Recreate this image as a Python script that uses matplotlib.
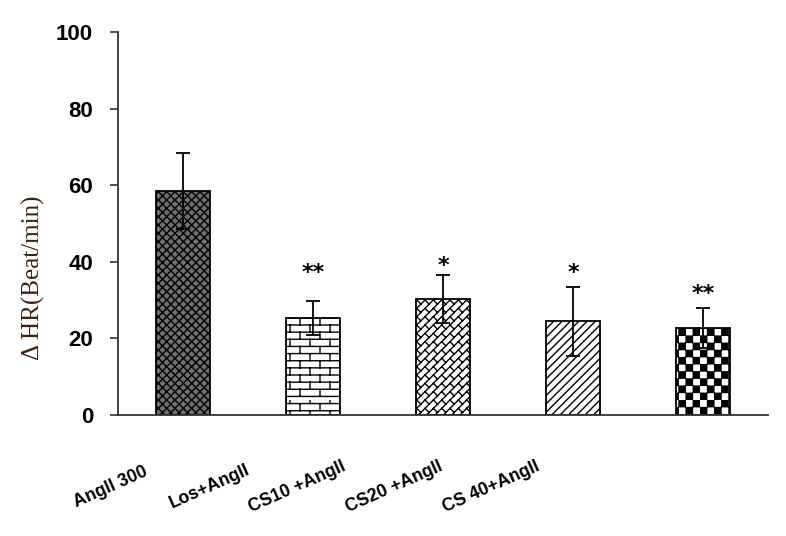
import warnings
import numpy as np
import matplotlib
matplotlib.use("Agg")
import matplotlib.pyplot as plt
import matplotlib.hatch as mhatch
import matplotlib.transforms as mtrans
from matplotlib.path import Path

warnings.filterwarnings("ignore")

# ---------------- data ----------------
categories = ["AngII 300", "Los+AngII", "CS10 +AngII", "CS20 +AngII", "CS 40+AngII"]
means = [58.5, 25.3, 30.3, 24.5, 22.7]
errors = [9.9, 4.5, 6.3, 9.0, 5.3]
sig_marks = ["", "**", "*", "*", "**"]
sig_heights = [0.0, 39.0, 40.7, 39.0, 33.4]
yticks = [0, 20, 40, 60, 80, 100]
ylabel = "\u0394 HR(Beat/min)"


# ---------------- custom hatch patterns ----------------
class _ShapeHatch(mhatch.HatchPatternBase):
    char = None

    def __init__(self, hatch, density):
        self.polys = self.build() if (hatch and self.char in hatch) else []
        self.num_vertices = sum(len(p) + (1 if c else 0) for p, c in self.polys)

    def build(self):
        return []

    def set_vertices_and_codes(self, vertices, codes):
        i = 0
        for pts, closed in self.polys:
            for j, pt in enumerate(pts):
                vertices[i] = pt
                codes[i] = Path.MOVETO if j == 0 else Path.LINETO
                i += 1
            if closed:
                vertices[i] = pts[0]
                codes[i] = Path.CLOSEPOLY
                i += 1


class BrickHatch(_ShapeHatch):
    char = "b"

    def build(self):
        rows, cols = 14, 5
        out = []
        for k in range(rows):
            y0 = (k + 0.5) / rows
            out.append(([(0.0, y0), (1.0, y0)], False))
            off = 0.5 / cols if k % 2 else 0.0
            for j in range(cols + 1):
                x = j / cols + off
                out.append(([(x, y0), (x, y0 + 1.0 / rows)], False))
        return out


class CheckerHatch(_ShapeHatch):
    char = "c"

    def build(self):
        n = 14
        s = 1.0 / n
        ins = 0.004
        out = []
        for i in range(n):
            for j in range(n):
                if (i + j) % 2 == 0:
                    x0, y0 = i * s + ins, j * s + ins
                    x1, y1 = (i + 1) * s - ins, (j + 1) * s - ins
                    out.append(([(x0, y0), (x1, y0), (x1, y1), (x0, y1)], True))
        return out


class WeaveHatch(_ShapeHatch):
    char = "w"

    def build(self):
        n, m = 12, 6
        out = []
        for k in range(-n, n + 1):
            c = k / n
            p0 = ((-1 + c) / 2, (-1 - c) / 2)
            p1 = ((3 + c) / 2, (3 - c) / 2)
            out.append(([p0, p1], False))
        for k in range(-n, n):
            c = k / n
            off = 0.5 / m if k % 2 else 0.0
            for j in range(-m, 3 * m):
                s = j / m + off
                a = ((s + c) / 2, (s - c) / 2)
                b = ((s + c + 1.0 / n) / 2, (s - c - 1.0 / n) / 2)
                out.append(([a, b], False))
        return out


mhatch._hatch_types.extend([BrickHatch, CheckerHatch, WeaveHatch])

# ---------------- styling ----------------
plt.rcParams["hatch.linewidth"] = 1.0
plt.rcParams["hatch.color"] = "black"

bar_faces = ["#6f6f6f", "white", "white", "white", "white"]
bar_hatches = ["xxxx", "b", "w", "////", "c"]

fig = plt.figure(figsize=(7.86, 5.36), dpi=100)
ax = fig.add_axes([0.150, 0.226, 0.827, 0.714])

x = np.arange(len(categories))
bars = ax.bar(x, means, width=0.41, color=bar_faces, edgecolor="black",
              linewidth=1.3, zorder=2)
for patch, h in zip(bars, bar_hatches):
    patch.set_hatch(h)

ax.errorbar(x, means, yerr=errors, fmt="none", ecolor="black",
            elinewidth=1.3, capsize=5, capthick=1.3, zorder=3)

star_tr = mtrans.offset_copy(ax.transData, fig=fig, y=-9.5, units="points")
for xi, mark, h in zip(x, sig_marks, sig_heights):
    if mark:
        ax.text(xi, h, mark, transform=star_tr, ha="center", va="baseline",
                fontsize=16, fontweight="bold", family="DejaVu Sans",
                color="black")

ax.set_xlim(-0.5, len(categories) - 0.5)
ax.set_ylim(0, 100)
ax.set_yticks(yticks)
ax.set_yticklabels([str(t) for t in yticks], fontsize=16, fontweight="bold",
                   family="Liberation Sans")
ax.set_xticks([])

for side in ("top", "right"):
    ax.spines[side].set_visible(False)
for side in ("left", "bottom"):
    ax.spines[side].set_color("#333333")
    ax.spines[side].set_linewidth(1.3)
ax.tick_params(axis="y", direction="out", length=5.8, width=1.2,
               color="#333333", pad=12)

label_x = [-0.011, 0.142, 0.276, 0.425, 0.574]
for lx, cat in zip(label_x, categories):
    ax.text(lx, -0.188, cat, transform=ax.transAxes, rotation=24,
            ha="center", va="center", fontsize=12.8, fontweight="bold",
            family="Liberation Sans", color="black")

ax.set_ylabel(ylabel, family="Liberation Serif", fontsize=18, color="#3b2414")
ax.yaxis.set_label_coords(-0.112, 0.358)

fig.savefig("out.png", dpi=100)
